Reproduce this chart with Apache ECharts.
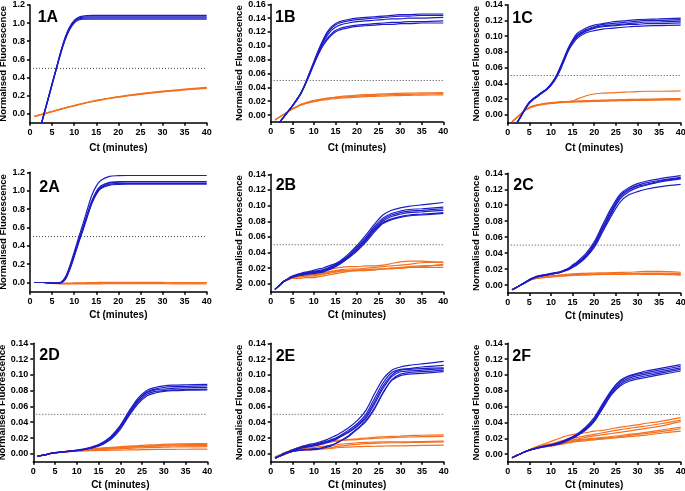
<!DOCTYPE html>
<html><head><meta charset="utf-8">
<script src="https://cdn.jsdelivr.net/npm/echarts@6/dist/echarts.min.js"></script>
<style>html,body{margin:0;padding:0;background:#fff}#c{width:685px;height:491px}</style>
</head><body><div id="c"></div>
<script>
// ---------- DATA ----------
const X = [1,2,3,4,5,6,7,8,9,10,11,12,13,14,15,16,18,20,22,24,26,28,30,32,35,40];
const xTicks = [0,5,10,15,20,25,30,35,40];
const yTicksA = [0,0.2,0.4,0.6,0.8,1.0,1.2];
const yTicks16 = [0,0.02,0.04,0.06,0.08,0.10,0.12,0.14,0.16];
const yTicks14 = [0,0.02,0.04,0.06,0.08,0.10,0.12,0.14];
const panelNames = ['1A','1B','1C','2A','2B','2C','2D','2E','2F'];
const thresholds = [0.5,0.05,0.05,0.5,0.05,0.05,0.05,0.05,0.05];
const xName = 'Ct (minutes)';
const yName = 'Normalised Fluorescence';

const blue1A = [
 [-0.40,-0.22,-0.04,0.14,0.32,0.50,0.67,0.82,0.93,1.00,1.035,1.045,1.045,1.045,1.045,1.045,1.045,1.045,1.045,1.045,1.045,1.045,1.045,1.045,1.045,1.045],
 [-0.40,-0.22,-0.04,0.14,0.32,0.50,0.68,0.83,0.94,1.01,1.045,1.055,1.057,1.057,1.057,1.057,1.057,1.057,1.057,1.057,1.057,1.057,1.057,1.057,1.057,1.057],
 [-0.39,-0.21,-0.03,0.15,0.33,0.51,0.69,0.84,0.95,1.02,1.055,1.066,1.07,1.07,1.07,1.07,1.07,1.07,1.07,1.07,1.07,1.07,1.07,1.07,1.07,1.07],
 [-0.39,-0.21,-0.03,0.15,0.33,0.51,0.69,0.85,0.96,1.03,1.065,1.078,1.083,1.085,1.085,1.085,1.085,1.085,1.085,1.085,1.085,1.085,1.085,1.085,1.085,1.085]
];
const orange1A = [
 [-0.030,-0.017,-0.005,0.009,0.023,0.037,0.050,0.063,0.076,0.088,0.100,0.112,0.123,0.134,0.144,0.153,0.170,0.185,0.198,0.211,0.223,0.234,0.244,0.253,0.265,0.285],
 [-0.028,-0.015,-0.003,0.011,0.025,0.039,0.052,0.065,0.078,0.090,0.103,0.115,0.126,0.137,0.147,0.156,0.173,0.188,0.202,0.215,0.227,0.238,0.248,0.257,0.270,0.290],
 [-0.032,-0.019,-0.007,0.007,0.021,0.035,0.048,0.061,0.074,0.086,0.098,0.110,0.121,0.131,0.141,0.150,0.167,0.182,0.195,0.207,0.219,0.230,0.240,0.249,0.261,0.280]
];
const blue1B = [
 [-0.020,-0.011,-0.003,0.005,0.013,0.022,0.032,0.045,0.061,0.077,0.093,0.107,0.119,0.127,0.132,0.135,0.138,0.140,0.141,0.142,0.143,0.144,0.145,0.145,0.146,0.146],
 [-0.020,-0.011,-0.003,0.005,0.013,0.022,0.032,0.045,0.061,0.076,0.092,0.105,0.117,0.125,0.130,0.133,0.136,0.138,0.139,0.140,0.141,0.142,0.143,0.143,0.144,0.144],
 [-0.020,-0.011,-0.003,0.005,0.013,0.022,0.032,0.045,0.060,0.075,0.090,0.103,0.114,0.122,0.127,0.130,0.133,0.135,0.136,0.137,0.138,0.139,0.139,0.140,0.140,0.141],
 [-0.020,-0.011,-0.003,0.005,0.013,0.022,0.031,0.044,0.059,0.074,0.088,0.100,0.110,0.117,0.122,0.125,0.128,0.130,0.131,0.132,0.133,0.134,0.134,0.135,0.135,0.136],
 [-0.020,-0.011,-0.003,0.005,0.013,0.021,0.031,0.044,0.058,0.073,0.087,0.099,0.108,0.115,0.120,0.123,0.126,0.128,0.129,0.130,0.131,0.131,0.132,0.132,0.133,0.133]
];
const orange1B = [
 [-0.007,-0.003,0.001,0.005,0.009,0.012,0.015,0.017,0.019,0.020,0.0215,0.0225,0.0235,0.0243,0.025,0.0256,0.0266,0.0274,0.028,0.0285,0.029,0.0294,0.0297,0.030,0.0304,0.031],
 [-0.007,-0.003,0.001,0.005,0.009,0.0125,0.0155,0.0178,0.0196,0.021,0.0223,0.0234,0.0244,0.0253,0.026,0.0267,0.0278,0.0287,0.0294,0.030,0.0305,0.031,0.0314,0.0317,0.032,0.0325],
 [-0.007,-0.003,0.001,0.0048,0.0085,0.0115,0.0143,0.0163,0.018,0.0192,0.0205,0.0215,0.0224,0.0232,0.0238,0.0244,0.0253,0.026,0.0266,0.0271,0.0275,0.0279,0.0282,0.0285,0.0288,0.0292]
];
const blue1C = [
 [-0.016,-0.011,-0.002,0.008,0.016,0.021,0.025,0.029,0.033,0.039,0.047,0.059,0.072,0.085,0.095,0.103,0.110,0.114,0.116,0.118,0.119,0.120,0.121,0.1215,0.122,0.123],
 [-0.016,-0.011,-0.002,0.008,0.016,0.021,0.025,0.029,0.033,0.039,0.047,0.058,0.071,0.084,0.094,0.101,0.108,0.112,0.115,0.116,0.117,0.118,0.119,0.120,0.120,0.121],
 [-0.016,-0.011,-0.002,0.007,0.015,0.020,0.024,0.028,0.032,0.038,0.046,0.057,0.070,0.083,0.093,0.100,0.107,0.111,0.113,0.114,0.115,0.116,0.117,0.118,0.118,0.119],
 [-0.016,-0.011,-0.003,0.007,0.015,0.020,0.024,0.028,0.032,0.038,0.045,0.056,0.069,0.082,0.092,0.099,0.106,0.110,0.112,0.113,0.114,0.115,0.115,0.116,0.116,0.117],
 [-0.016,-0.011,-0.003,0.007,0.015,0.020,0.024,0.028,0.032,0.037,0.045,0.055,0.068,0.081,0.090,0.097,0.104,0.107,0.109,0.110,0.111,0.112,0.1125,0.113,0.1135,0.114]
];
const orange1C = [
 [-0.009,-0.004,0.001,0.006,0.009,0.011,0.0125,0.0135,0.0143,0.015,0.0155,0.016,0.0163,0.0166,0.0168,0.017,0.0173,0.0177,0.018,0.0183,0.0186,0.0188,0.019,0.0192,0.0195,0.0198],
 [-0.009,-0.004,0.001,0.006,0.0095,0.0115,0.013,0.014,0.0148,0.0155,0.016,0.0165,0.0168,0.0171,0.0174,0.0176,0.018,0.0184,0.0187,0.019,0.0193,0.0196,0.0198,0.020,0.0203,0.0207],
 [-0.009,-0.004,0.001,0.0055,0.0085,0.0105,0.012,0.013,0.0138,0.0145,0.015,0.0154,0.0157,0.016,0.0162,0.0164,0.0167,0.017,0.0173,0.0176,0.0179,0.0181,0.0183,0.0185,0.0188,0.019],
 [-0.009,-0.004,0.001,0.006,0.009,0.011,0.0125,0.0135,0.0143,0.015,0.0155,0.016,0.0163,0.0166,0.0175,0.020,0.024,0.0265,0.0275,0.028,0.0285,0.029,0.0295,0.030,0.030,0.0305]
];
const blue2A = [
 [0,0,0,-0.002,-0.006,-0.008,-0.003,0.035,0.14,0.28,0.43,0.57,0.72,0.86,0.96,1.02,1.06,1.068,1.07,1.07,1.07,1.07,1.07,1.07,1.07,1.07],
 [0,0,0,-0.002,-0.006,-0.008,-0.002,0.04,0.15,0.29,0.44,0.58,0.73,0.87,0.97,1.03,1.072,1.078,1.08,1.08,1.08,1.08,1.08,1.08,1.08,1.08],
 [0,0,0,-0.002,-0.005,-0.007,-0.001,0.045,0.155,0.30,0.45,0.59,0.74,0.88,0.98,1.04,1.085,1.092,1.095,1.095,1.095,1.095,1.095,1.095,1.095,1.095],
 [0,0,0,-0.002,-0.005,-0.007,0,0.05,0.16,0.31,0.46,0.60,0.75,0.89,0.99,1.05,1.09,1.098,1.10,1.10,1.10,1.10,1.10,1.10,1.10,1.10],
 [0,0,0,-0.002,-0.005,-0.006,0.002,0.06,0.18,0.33,0.49,0.64,0.80,0.95,1.05,1.11,1.155,1.163,1.165,1.165,1.165,1.165,1.165,1.165,1.165,1.165]
];
const orange2A = [
 [0,0,0,-0.004,-0.008,-0.010,-0.011,-0.011,-0.011,-0.010,-0.010,-0.009,-0.009,-0.008,-0.008,-0.007,-0.006,-0.005,-0.004,-0.004,-0.004,-0.004,-0.004,-0.004,-0.004,-0.005],
 [0,0,0,-0.004,-0.009,-0.012,-0.014,-0.015,-0.015,-0.015,-0.015,-0.015,-0.015,-0.015,-0.015,-0.014,-0.013,-0.012,-0.012,-0.012,-0.012,-0.013,-0.013,-0.014,-0.015,-0.016],
 [0,0,0,-0.003,-0.006,-0.007,-0.007,-0.007,-0.006,-0.005,-0.004,-0.003,-0.002,-0.001,0.0,0.001,0.002,0.003,0.003,0.003,0.002,0.002,0.001,0.000,0.000,-0.001]
];
const blue2B = [
 [-0.007,-0.002,0.003,0.007,0.010,0.012,0.0135,0.015,0.016,0.0175,0.019,0.020,0.022,0.024,0.026,0.029,0.038,0.049,0.062,0.076,0.088,0.094,0.097,0.099,0.101,0.104],
 [-0.007,-0.002,0.003,0.006,0.009,0.011,0.0125,0.014,0.015,0.016,0.017,0.018,0.020,0.022,0.025,0.028,0.036,0.047,0.059,0.073,0.084,0.090,0.093,0.095,0.096,0.098],
 [-0.007,-0.002,0.003,0.006,0.009,0.011,0.012,0.013,0.014,0.015,0.016,0.017,0.019,0.021,0.024,0.027,0.035,0.045,0.057,0.071,0.082,0.088,0.091,0.093,0.094,0.096],
 [-0.007,-0.002,0.003,0.006,0.009,0.011,0.012,0.013,0.014,0.015,0.016,0.017,0.019,0.021,0.023,0.026,0.034,0.044,0.056,0.069,0.080,0.086,0.089,0.091,0.092,0.094],
 [-0.007,-0.002,0.003,0.006,0.0085,0.010,0.011,0.012,0.013,0.014,0.015,0.016,0.018,0.020,0.023,0.026,0.034,0.044,0.055,0.068,0.078,0.083,0.086,0.088,0.089,0.091],
 [-0.007,-0.002,0.003,0.006,0.0085,0.010,0.011,0.012,0.013,0.013,0.014,0.015,0.017,0.019,0.022,0.025,0.033,0.042,0.053,0.066,0.077,0.082,0.085,0.087,0.088,0.090]
];
const orange2B = [
 [-0.007,-0.002,0.003,0.006,0.009,0.011,0.012,0.013,0.014,0.015,0.016,0.017,0.018,0.019,0.020,0.021,0.022,0.022,0.023,0.023,0.024,0.026,0.028,0.029,0.029,0.027],
 [-0.007,-0.002,0.003,0.006,0.008,0.009,0.010,0.011,0.012,0.012,0.013,0.014,0.015,0.016,0.016,0.017,0.017,0.018,0.018,0.019,0.019,0.020,0.021,0.022,0.023,0.024],
 [-0.007,-0.002,0.003,0.005,0.007,0.007,0.007,0.008,0.008,0.008,0.009,0.010,0.011,0.012,0.013,0.014,0.016,0.017,0.017,0.018,0.019,0.020,0.020,0.021,0.021,0.021],
 [-0.007,-0.002,0.003,0.006,0.008,0.009,0.010,0.010,0.011,0.011,0.012,0.013,0.014,0.016,0.017,0.018,0.019,0.019,0.020,0.021,0.022,0.023,0.024,0.025,0.027,0.028],
 [-0.007,-0.002,0.003,0.006,0.008,0.009,0.009,0.010,0.010,0.010,0.011,0.012,0.013,0.014,0.015,0.016,0.017,0.017,0.018,0.018,0.019,0.019,0.020,0.021,0.022,0.025]
];
const blue2C = [
 [-0.006,-0.003,0.000,0.0035,0.007,0.0095,0.0115,0.0125,0.0135,0.0145,0.0155,0.0165,0.0185,0.021,0.025,0.029,0.039,0.054,0.076,0.097,0.114,0.122,0.127,0.130,0.133,0.137],
 [-0.006,-0.003,0.000,0.003,0.0065,0.009,0.011,0.012,0.013,0.014,0.015,0.016,0.018,0.020,0.024,0.028,0.037,0.052,0.073,0.094,0.112,0.120,0.125,0.128,0.131,0.135],
 [-0.006,-0.003,0.000,0.003,0.0065,0.009,0.011,0.012,0.013,0.014,0.015,0.016,0.018,0.020,0.024,0.027,0.036,0.050,0.071,0.092,0.110,0.119,0.124,0.126,0.130,0.134],
 [-0.006,-0.003,0.000,0.003,0.006,0.0085,0.0105,0.0115,0.0125,0.0135,0.0145,0.0155,0.0175,0.0195,0.023,0.026,0.035,0.049,0.069,0.090,0.108,0.117,0.122,0.125,0.129,0.133],
 [-0.006,-0.003,0.000,0.003,0.006,0.0085,0.0105,0.0115,0.0125,0.0135,0.0145,0.0155,0.0175,0.019,0.022,0.025,0.034,0.047,0.067,0.087,0.104,0.113,0.117,0.120,0.123,0.126]
];
const orange2C = [
 [-0.006,-0.003,0.000,0.003,0.006,0.008,0.009,0.010,0.0105,0.011,0.0115,0.012,0.0123,0.0126,0.013,0.0132,0.0135,0.0138,0.014,0.014,0.014,0.0142,0.0145,0.0148,0.015,0.0145],
 [-0.006,-0.003,0.000,0.003,0.006,0.008,0.009,0.010,0.011,0.0115,0.012,0.0125,0.013,0.0135,0.014,0.0143,0.0147,0.015,0.0152,0.0155,0.0158,0.016,0.0165,0.017,0.017,0.016],
 [-0.006,-0.003,0.000,0.003,0.0055,0.0075,0.0085,0.0095,0.010,0.0105,0.011,0.0113,0.0116,0.012,0.0122,0.0124,0.0127,0.013,0.0132,0.0133,0.0134,0.0135,0.0135,0.0134,0.0132,0.013],
 [-0.006,-0.003,0.000,0.003,0.0055,0.0075,0.0085,0.009,0.0095,0.010,0.0105,0.011,0.0113,0.0116,0.012,0.0123,0.0128,0.0132,0.0135,0.0137,0.0138,0.014,0.0142,0.0143,0.0142,0.0125]
];
const blue2D = [
 [-0.003,-0.002,-0.001,0.0005,0.0015,0.0022,0.0028,0.0034,0.004,0.0046,0.0055,0.0066,0.008,0.0097,0.0118,0.0145,0.023,0.036,0.054,0.070,0.080,0.084,0.086,0.087,0.0875,0.088],
 [-0.003,-0.002,-0.001,0.0005,0.0013,0.002,0.0026,0.0032,0.0038,0.0043,0.0051,0.0062,0.0075,0.0091,0.011,0.0135,0.022,0.035,0.052,0.068,0.078,0.082,0.084,0.085,0.0855,0.086],
 [-0.003,-0.002,-0.001,0.0005,0.0013,0.002,0.0025,0.003,0.0037,0.0042,0.005,0.006,0.0072,0.0088,0.0106,0.013,0.021,0.034,0.051,0.067,0.077,0.081,0.082,0.083,0.0835,0.084],
 [-0.003,-0.002,-0.001,0.0004,0.0012,0.0018,0.0024,0.0029,0.0035,0.004,0.0048,0.0058,0.007,0.0085,0.0102,0.0125,0.020,0.033,0.050,0.065,0.075,0.079,0.080,0.081,0.0815,0.082],
 [-0.003,-0.002,-0.001,0.0004,0.0012,0.0018,0.0023,0.0028,0.0034,0.0039,0.0046,0.0055,0.0067,0.0082,0.0098,0.012,0.019,0.031,0.048,0.063,0.073,0.077,0.079,0.080,0.0805,0.081]
];
const orange2D = [
 [-0.003,-0.002,-0.001,0.0005,0.0015,0.002,0.0028,0.0034,0.004,0.0045,0.005,0.0055,0.006,0.0065,0.007,0.0075,0.0083,0.009,0.0097,0.0103,0.011,0.0115,0.012,0.0123,0.0127,0.013],
 [-0.003,-0.002,-0.001,0.0005,0.0014,0.002,0.0026,0.0032,0.0037,0.0042,0.0046,0.005,0.0054,0.0058,0.0062,0.0066,0.0073,0.008,0.0087,0.0093,0.0099,0.0104,0.0108,0.0112,0.0116,0.012],
 [-0.003,-0.002,-0.001,0.0005,0.0013,0.0019,0.0024,0.0029,0.0033,0.0037,0.004,0.0043,0.0046,0.0049,0.0052,0.0055,0.006,0.0065,0.007,0.0074,0.0078,0.0081,0.0084,0.0086,0.0088,0.009],
 [-0.003,-0.002,-0.001,0.0005,0.0013,0.0018,0.0023,0.0027,0.003,0.0033,0.0035,0.0037,0.0039,0.004,0.0042,0.0043,0.0045,0.0047,0.0049,0.0051,0.0053,0.0055,0.0056,0.0057,0.0058,0.006],
 [-0.003,-0.002,-0.001,0.0005,0.0014,0.002,0.0025,0.003,0.0035,0.004,0.0044,0.0048,0.0052,0.0056,0.006,0.0064,0.0071,0.0077,0.0083,0.0088,0.0092,0.0096,0.0099,0.0101,0.0103,0.0105]
];
const blue2E = [
 [-0.0055,-0.003,0.000,0.0025,0.005,0.007,0.009,0.0105,0.012,0.013,0.0145,0.016,0.018,0.0205,0.023,0.026,0.033,0.042,0.055,0.076,0.095,0.106,0.110,0.112,0.114,0.117],
 [-0.0055,-0.003,0.000,0.0022,0.0045,0.0065,0.008,0.0095,0.0105,0.0115,0.013,0.0145,0.016,0.018,0.020,0.023,0.030,0.038,0.050,0.070,0.090,0.103,0.107,0.108,0.110,0.112],
 [-0.0055,-0.003,0.000,0.002,0.0042,0.006,0.0075,0.0088,0.0098,0.0106,0.012,0.0135,0.015,0.017,0.019,0.022,0.028,0.036,0.047,0.066,0.086,0.100,0.106,0.107,0.108,0.109],
 [-0.0055,-0.003,0.000,0.002,0.004,0.0055,0.007,0.008,0.009,0.010,0.011,0.0125,0.014,0.016,0.018,0.021,0.027,0.035,0.045,0.063,0.083,0.098,0.104,0.105,0.106,0.108],
 [-0.0055,-0.003,-0.001,0.001,0.003,0.004,0.0045,0.005,0.005,0.0055,0.006,0.007,0.0085,0.010,0.013,0.016,0.022,0.031,0.041,0.057,0.077,0.094,0.101,0.103,0.104,0.106],
 [-0.0055,-0.003,-0.001,0.001,0.003,0.004,0.005,0.0055,0.006,0.0065,0.007,0.008,0.0095,0.011,0.013,0.016,0.023,0.032,0.042,0.058,0.078,0.093,0.099,0.101,0.102,0.104]
];
const orange2E = [
 [-0.004,-0.002,0.001,0.003,0.005,0.007,0.009,0.010,0.011,0.012,0.013,0.014,0.015,0.016,0.017,0.0175,0.018,0.019,0.020,0.021,0.0215,0.022,0.0225,0.023,0.0235,0.024],
 [-0.004,-0.002,0.001,0.003,0.005,0.007,0.008,0.009,0.010,0.011,0.012,0.013,0.014,0.015,0.016,0.0165,0.0175,0.018,0.019,0.0195,0.020,0.0205,0.021,0.0213,0.0217,0.022],
 [-0.004,-0.002,0.0005,0.0025,0.004,0.005,0.006,0.007,0.0075,0.008,0.0088,0.0095,0.0102,0.0108,0.011,0.012,0.013,0.014,0.0145,0.0148,0.015,0.015,0.015,0.0153,0.0156,0.016],
 [-0.004,-0.002,0.0005,0.002,0.0035,0.0045,0.005,0.0055,0.006,0.006,0.0065,0.007,0.0075,0.008,0.009,0.0098,0.011,0.012,0.0128,0.0133,0.0137,0.014,0.014,0.0143,0.0146,0.015],
 [-0.004,-0.002,0.0005,0.002,0.003,0.004,0.0045,0.0048,0.005,0.005,0.0055,0.006,0.0065,0.007,0.0075,0.008,0.0085,0.009,0.0093,0.0096,0.0098,0.010,0.010,0.0103,0.0106,0.011]
];
const blue2F = [
 [-0.0046,-0.002,0.0005,0.003,0.005,0.0067,0.0083,0.0096,0.0108,0.012,0.0132,0.0148,0.017,0.0195,0.022,0.025,0.034,0.046,0.064,0.081,0.093,0.099,0.102,0.105,0.108,0.113],
 [-0.0046,-0.002,0.0005,0.003,0.005,0.0066,0.0081,0.0094,0.0105,0.0117,0.0128,0.0144,0.0165,0.019,0.0215,0.0245,0.033,0.044,0.062,0.080,0.092,0.098,0.101,0.103,0.106,0.111],
 [-0.0046,-0.002,0.0005,0.003,0.005,0.0065,0.008,0.0092,0.0103,0.0114,0.0125,0.014,0.016,0.0185,0.021,0.024,0.032,0.043,0.061,0.078,0.090,0.096,0.099,0.101,0.104,0.109],
 [-0.0046,-0.002,0.0005,0.003,0.005,0.0064,0.0078,0.009,0.010,0.011,0.012,0.0135,0.0155,0.018,0.0205,0.0235,0.031,0.042,0.059,0.076,0.088,0.094,0.097,0.099,0.102,0.107],
 [-0.0046,-0.002,0.0005,0.003,0.005,0.0063,0.0076,0.0088,0.0098,0.0108,0.0118,0.013,0.015,0.0175,0.020,0.023,0.030,0.041,0.058,0.075,0.086,0.092,0.095,0.097,0.100,0.105]
];
const orange2F = [
 [-0.0046,-0.002,0.0005,0.003,0.0055,0.008,0.010,0.012,0.014,0.016,0.018,0.020,0.022,0.0235,0.0245,0.0255,0.027,0.029,0.030,0.032,0.034,0.0355,0.037,0.039,0.041,0.046],
 [-0.0046,-0.002,0.0005,0.003,0.0052,0.0072,0.009,0.0105,0.012,0.013,0.0145,0.016,0.0175,0.0188,0.020,0.021,0.023,0.025,0.027,0.029,0.031,0.0325,0.034,0.0355,0.038,0.043],
 [-0.0046,-0.002,0.0005,0.003,0.005,0.007,0.0085,0.0098,0.011,0.012,0.0133,0.0146,0.016,0.017,0.018,0.019,0.021,0.023,0.0245,0.026,0.0275,0.029,0.031,0.0325,0.035,0.041],
 [-0.0046,-0.002,0.0005,0.003,0.005,0.0068,0.0082,0.0094,0.0105,0.011,0.012,0.0133,0.0146,0.0158,0.017,0.018,0.019,0.020,0.021,0.0222,0.0235,0.025,0.026,0.0275,0.030,0.034],
 [-0.0046,-0.002,0.0005,0.003,0.005,0.0066,0.008,0.009,0.0098,0.0105,0.0115,0.0127,0.014,0.015,0.016,0.017,0.018,0.019,0.020,0.021,0.022,0.0235,0.025,0.026,0.028,0.032],
 [-0.0046,-0.002,0.0005,0.003,0.005,0.0065,0.0078,0.0088,0.0095,0.010,0.011,0.012,0.013,0.014,0.015,0.016,0.0168,0.018,0.019,0.020,0.021,0.022,0.023,0.024,0.026,0.029]
];

// ---------- LAYOUT / STYLE ----------
const blues = [blue1A,blue1B,blue1C,blue2A,blue2B,blue2C,blue2D,blue2E,blue2F];
const oranges = [orange1A,orange1B,orange1C,orange2A,orange2B,orange2C,orange2D,orange2E,orange2F];
const FONT = "'Liberation Sans', Arial, Helvetica, sans-serif";
const BLUE = '#1d1dc6';
const ORANGE = '#f4701f';
const layout = [
 {g:[30,5,176.7,117.7],    ymin:-0.1, ymax:1.2,  ticks:yTicksA, dec:1, ng:20, xg:21, lab:[37.7,17.2]},
 {g:[270.7,4.3,172.6,117.7],ymin:-0.01,ymax:0.16, ticks:yTicks16,dec:2, ng:24.5, xg:21, lab:[275,17.5]},
 {g:[507.7,4.7,173,118],   ymin:-0.01,ymax:0.14, ticks:yTicks14,dec:2, ng:24, xg:21, lab:[512.3,18.3]},
 {g:[30,172.3,176.7,119.4],ymin:-0.1, ymax:1.2,  ticks:yTicksA, dec:1, ng:20, xg:18.5, lab:[39.3,188]},
 {g:[270.7,174.3,172.6,117.4],ymin:-0.01,ymax:0.14,ticks:yTicks14,dec:2, ng:24.5, xg:18.5, lab:[275.7,185.8]},
 {g:[507.7,173.3,173,119.7],ymin:-0.01,ymax:0.14, ticks:yTicks14,dec:2, ng:24, xg:18.5, lab:[513.3,185.8]},
 {g:[33.3,343.3,174,118.4],ymin:-0.01,ymax:0.14, ticks:yTicks14,dec:2, ng:23, xg:18.5, lab:[39.3,355.8]},
 {g:[270.7,343.3,173,118.4],ymin:-0.01,ymax:0.14, ticks:yTicks14,dec:2, ng:24.5, xg:18.5, lab:[275.7,356.7]},
 {g:[507.7,343.3,173,118.7],ymin:-0.01,ymax:0.14, ticks:yTicks14,dec:2, ng:24, xg:18.5, lab:[512.3,356.7]}
];

const pts = ys => X.map((x,i)=>[x, ys[i]]);
const axisLineStyle = {show:true, onZero:false, lineStyle:{color:'#000', width:1.5}};
const tickStyle = {show:true, length:3, lineStyle:{color:'#000', width:1.5}};
const labelStyle = {color:'#000', fontSize:9, fontWeight:'bold', fontFamily:FONT};

const grid=[], xAxis=[], yAxis=[], series=[], graphic=[];
layout.forEach((L,i)=>{
  grid.push({left:L.g[0], top:L.g[1], width:L.g[2], height:L.g[3], containLabel:false, outerBoundsMode:'none'});
  xAxis.push({gridIndex:i, type:'value', min:0, max:40, interval:5,
    axisLine:axisLineStyle, axisTick:Object.assign({customValues:xTicks}, tickStyle),
    axisLabel:Object.assign({margin:5, customValues:xTicks}, labelStyle), splitLine:{show:false},
    name:xName, nameLocation:'middle', nameGap:L.xg,
    nameTextStyle:{color:'#000', fontSize:10, fontWeight:'bold', fontFamily:FONT}});
  yAxis.push({gridIndex:i, type:'value', min:L.ymin, max:L.ymax,
    axisLine:axisLineStyle, axisTick:Object.assign({customValues:L.ticks}, tickStyle),
    axisLabel:Object.assign({margin:5, customValues:L.ticks, formatter:v=>Number(v).toFixed(L.dec)}, labelStyle),
    splitLine:{show:false},
    name:yName, nameLocation:'middle', nameGap:L.ng, nameRotate:90,
    nameTextStyle:{color:'#000', fontSize:9.5, fontWeight:'bold', fontFamily:FONT}});
  series.push({type:'line', xAxisIndex:i, yAxisIndex:i, data:[[0,thresholds[i]],[40,thresholds[i]]],
    symbol:'none', silent:true, lineStyle:{color:'#444', width:1, type:[1,2]}, z:1});
  oranges[i].forEach(c=>series.push({type:'line', xAxisIndex:i, yAxisIndex:i, data:pts(c),
    symbol:'none', smooth:0.3, clip:true, silent:true, lineStyle:{color:ORANGE, width:1.2}, z:2}));
  blues[i].forEach(c=>series.push({type:'line', xAxisIndex:i, yAxisIndex:i, data:pts(c),
    symbol:'none', smooth:0.3, clip:true, silent:true, lineStyle:{color:BLUE, width:1.2}, z:3}));
  graphic.push({type:'text', x:L.lab[0], y:L.lab[1], z:10,
    style:{text:panelNames[i], fill:'#000', fontSize:16, fontWeight:'bold', fontFamily:FONT, align:'left', verticalAlign:'middle'}});
});

const chart = echarts.init(document.getElementById('c'), null, {renderer:'canvas'});
chart.setOption({animation:false, backgroundColor:'#fff', grid, xAxis, yAxis, series, graphic});
</script>
</body></html>
